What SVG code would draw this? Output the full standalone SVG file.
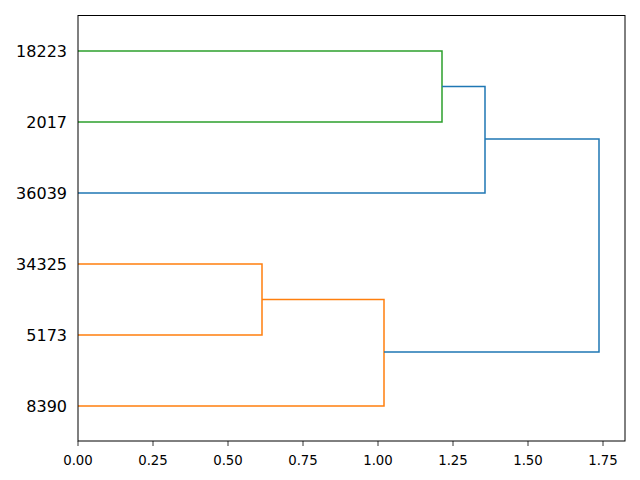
<svg xmlns="http://www.w3.org/2000/svg" width="640" height="480" viewBox="0 0 640 480">
<style>
.ax{fill:none;stroke:#000;stroke-width:1}
.tk{stroke:#000;stroke-width:0.8}
.yl{font-family:"DejaVu Sans",sans-serif;font-size:16px;text-anchor:end;fill:#000}
.xl{font-family:"DejaVu Sans",sans-serif;font-size:13.3px;text-anchor:middle;fill:#000}
.g{fill:none;stroke:#2ca02c;stroke-width:1.5}
.o{fill:none;stroke:#ff7f0e;stroke-width:1.5}
.b{fill:none;stroke:#1f77b4;stroke-width:1.5}
</style>
<rect width="640" height="480" fill="#fff"/>
<g id="connectors">
<polyline class="g" points="78,51 442,51 442,122 78,122"/>
<polyline class="b" points="442,86.5 485,86.5 485,193 78,193"/>
<polyline class="o" points="78,264 262,264 262,335 78,335"/>
<polyline class="o" points="262,299.5 384,299.5 384,406 78,406"/>
<polyline class="b" points="485,139 599,139 599,352 384,352"/>
</g>
<g id="axes">
<rect class="ax" x="78" y="15.5" width="547" height="425.5"/>
<g class="tk">
<line x1="78" y1="441" x2="78" y2="446"/>
<line x1="153" y1="441" x2="153" y2="446"/>
<line x1="228" y1="441" x2="228" y2="446"/>
<line x1="303" y1="441" x2="303" y2="446"/>
<line x1="378" y1="441" x2="378" y2="446"/>
<line x1="453" y1="441" x2="453" y2="446"/>
<line x1="528" y1="441" x2="528" y2="446"/>
<line x1="603" y1="441" x2="603" y2="446"/>
</g>
<text class="xl" x="78" y="465">0.00</text>
<text class="xl" x="153" y="465">0.25</text>
<text class="xl" x="228" y="465">0.50</text>
<text class="xl" x="303" y="465">0.75</text>
<text class="xl" x="378" y="465">1.00</text>
<text class="xl" x="453" y="465">1.25</text>
<text class="xl" x="528" y="465">1.50</text>
<text class="xl" x="603" y="465">1.75</text>
</g>
<g id="leaf-18223"><text class="yl" x="67" y="57">18223</text></g>
<g id="leaf-2017"><text class="yl" x="67" y="128">2017</text></g>
<g id="leaf-36039"><text class="yl" x="67" y="199">36039</text></g>
<g id="leaf-34325"><text class="yl" x="67" y="270">34325</text></g>
<g id="leaf-5173"><text class="yl" x="67" y="341">5173</text></g>
<g id="leaf-8390"><text class="yl" x="67" y="412">8390</text></g>
</svg>
